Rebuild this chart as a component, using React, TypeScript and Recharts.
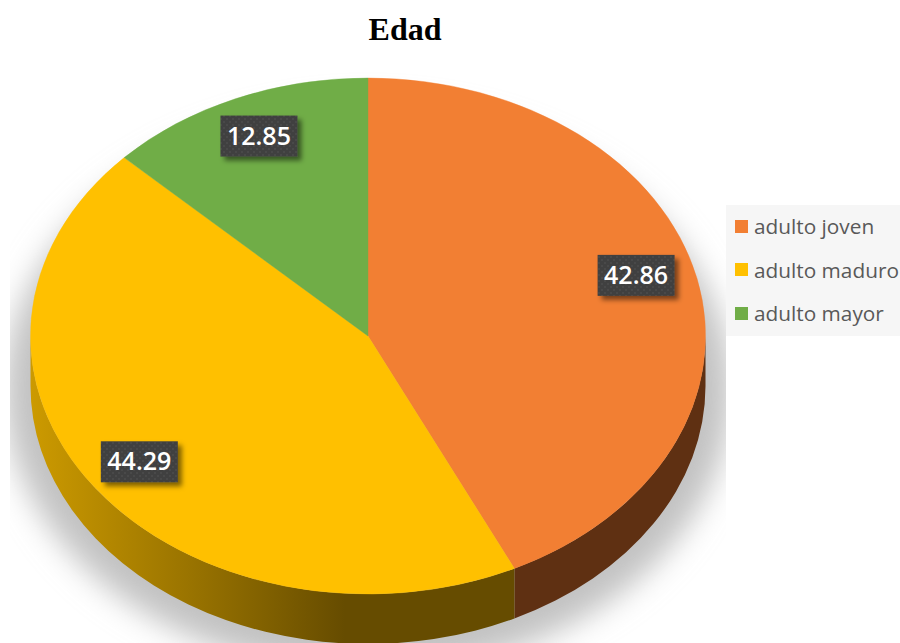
import React from "react";
import { PieChart, Pie, Legend } from "recharts";

const categories = ["adulto joven", "adulto maduro", "adulto mayor"];
const values = [42.86, 44.29, 12.85];
const topColors = ["#F27F33", "#FFC000", "#70AD47"];
const wallFills = ["#5F3012", "url(#yellowWall)", "#3A5A24"];
const labelNudges = [[-5, -13], [-2, 0], [1, -3]];
const shadowValues = [100];

const WIDTH = 900;
const HEIGHT = 643;
const CX = 368;
const CY = 336;
const RX = 337.5;
const RY = 258;
const K = RY / RX;
const DEPTH = 50;

const data = categories.map((name, i) => ({ name, value: values[i], fill: topColors[i] }));
const shadowData = shadowValues.map((value) => ({ name: "shadow", value }));

const point = (cx: number, cy: number, r: number, deg: number) => {
  const t = (deg * Math.PI) / 180;
  return [cx + r * Math.cos(t), cy - r * K * Math.sin(t)];
};

const SliceShape = (props: any) => {
  const { cx, cy, outerRadius: r, startAngle, endAngle, index } = props;
  const [sx, sy] = point(cx, cy, r, startAngle);
  const [ex, ey] = point(cx, cy, r, endAngle);
  const large = Math.abs(startAngle - endAngle) > 180 ? 1 : 0;
  const top = `M${cx},${cy}L${sx},${sy}A${r},${r * K} 0 ${large} 1 ${ex},${ey}Z`;
  const a = Math.min(startAngle, 0);
  const b = Math.max(endAngle, -180);
  let wall = null;
  if (a > b) {
    const [ax, ay] = point(cx, cy, r, a);
    const [bx, by] = point(cx, cy, r, b);
    const d = `M${ax},${ay}A${r},${r * K} 0 0 1 ${bx},${by}L${bx},${by + DEPTH}A${r},${r * K} 0 0 0 ${ax},${ay + DEPTH}Z`;
    wall = <path d={d} fill={wallFills[index]} />;
  }
  return (
    <g>
      {wall}
      <path d={top} fill={topColors[index]} stroke={topColors[index]} strokeWidth={0.4} />
    </g>
  );
};

const ShadowShape = (props: any) => {
  const { cx, cy, outerRadius: r } = props;
  return (
    <g clipPath="url(#shadowClip)">
      <ellipse
        cx={cx}
        cy={cy + 54}
        rx={r + 26}
        ry={r * K + 24}
        fill="#c2c2c2"
        filter="url(#softBlur)"
      />
    </g>
  );
};

const renderLabel = (props: any) => {
  const { cx, cy, midAngle, outerRadius, value, index } = props;
  const [x0, y0] = point(cx, cy, outerRadius * 0.83, midAngle);
  const x = x0 + labelNudges[index][0];
  const y = y0 + labelNudges[index][1];
  return (
    <g key={index}>
      <rect x={x - 38.5} y={y - 20.5} width={77} height={41} fill="url(#labelDots)" filter="url(#labelShadow)" />
      <text
        x={x}
        y={y + 8.5}
        textAnchor="middle"
        fill="#ffffff"
        fontFamily="'Open Sans', sans-serif"
        fontWeight={600}
        fontSize={25}
      >
        {Number(value).toFixed(2)}
      </text>
    </g>
  );
};

const LegendBox = (props: any) => {
  const items = (props.payload || []).filter((p: any) => categories.includes(p.value));
  return (
    <div style={{ width: 174, height: 131, background: "#f6f6f6", position: "relative" }}>
      {items.map((p: any, i: number) => (
        <div
          key={p.value}
          style={{
            position: "absolute",
            left: 9,
            top: 5 + i * 43.5,
            height: 32,
            display: "flex",
            alignItems: "center",
            whiteSpace: "nowrap",
            fontFamily: "'Open Sans', sans-serif",
            fontSize: 20.8,
            color: "#595959",
          }}
        >
          <span
            style={{
              display: "inline-block",
              width: 13,
              height: 13,
              background: topColors[i],
              marginRight: 6,
            }}
          />
          {p.value}
        </div>
      ))}
    </div>
  );
};

export default function App() {
  return (
    <div style={{ position: "absolute", left: 0, top: 0, width: WIDTH, height: HEIGHT, overflow: "hidden", background: "#fff" }}>
      <PieChart width={WIDTH} height={HEIGHT} margin={{ top: 0, right: 0, bottom: 0, left: 0 }}>
        <defs>
          <linearGradient id="yellowWall" gradientUnits="userSpaceOnUse" x1={31} y1={0} x2={345} y2={0}>
            <stop offset="0" stopColor="#CC9A00" />
            <stop offset="0.5" stopColor="#9A7400" />
            <stop offset="1" stopColor="#664C00" />
          </linearGradient>
          <clipPath id="shadowClip">
            <rect x={10} y={0} width={716} height={HEIGHT} />
          </clipPath>
          <filter id="softBlur" x="-10%" y="-10%" width="120%" height="120%">
            <feGaussianBlur stdDeviation={15} />
          </filter>
          <filter id="labelShadow" x="-20%" y="-30%" width="150%" height="170%">
            <feDropShadow dx={4} dy={4} stdDeviation={2.5} floodColor="#000" floodOpacity={0.5} />
          </filter>
          <pattern id="labelDots" width={6} height={6} patternUnits="userSpaceOnUse">
            <rect width={6} height={6} fill="#404040" />
            <circle cx={2} cy={2} r={0.8} fill="#525252" />
            <circle cx={5} cy={5} r={0.8} fill="#525252" />
          </pattern>
        </defs>
        <text
          x={405}
          y={40}
          textAnchor="middle"
          fontFamily="'Liberation Serif', serif"
          fontWeight={700}
          fontSize={32}
          fill="#000"
        >
          Edad
        </text>
        <Pie
          data={shadowData}
          dataKey="value"
          nameKey="name"
          cx={CX}
          cy={CY}
          outerRadius={RX}
          innerRadius={0}
          startAngle={90}
          endAngle={-270}
          stroke="none"
          legendType="none"
          isAnimationActive={false}
          shape={ShadowShape}
        />
        <Pie
          data={data}
          dataKey="value"
          nameKey="name"
          cx={CX}
          cy={CY}
          outerRadius={RX}
          innerRadius={0}
          startAngle={90}
          endAngle={-270}
          stroke="none"
          isAnimationActive={false}
          labelLine={false}
          label={renderLabel}
          shape={SliceShape}
        />
        <Legend
          layout="vertical"
          align="right"
          verticalAlign="top"
          content={LegendBox}
          wrapperStyle={{ position: "absolute", left: 726, top: 205, width: 174, height: 131 }}
        />
      </PieChart>
    </div>
  );
}
